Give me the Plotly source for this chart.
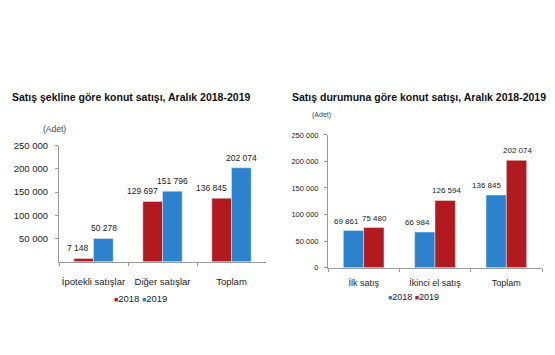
import plotly.graph_objects as go

# Left chart data
left_categories = ["İpotekli satışlar", "Diğer satışlar", "Toplam"]
left_2018 = [7148, 129697, 136845]
left_2019 = [50278, 151796, 202074]
left_yticks = [50000, 100000, 150000, 200000, 250000]

# Right chart data
right_categories = ["İlk satış", "İkinci el satış", "Toplam"]
right_2018 = [69861, 66984, 136845]
right_2019 = [75480, 126594, 202074]
right_yticks = [0, 50000, 100000, 150000, 200000, 250000]

RED = "#B11B20"
BLUE = "#2C82CC"
W, H = 555, 355
SANS = "Liberation Sans, Arial, sans-serif"


def fmt(v):
    return f"{v:,}".replace(",", " ")


def px(x):
    return x / W


def py(y):
    return 1 - y / H


fig = go.Figure()


def bar(cats, vals, name, color, xa, ya):
    return go.Bar(x=cats, y=vals, name=name, marker_color=color,
                  xaxis=xa, yaxis=ya, hoverinfo="x+y+name")


fig.add_trace(bar(left_categories, left_2018, "2018", RED, "x", "y"))
fig.add_trace(bar(left_categories, left_2019, "2019", BLUE, "x", "y"))
fig.add_trace(bar(right_categories, right_2018, "2018", BLUE, "x2", "y2"))
fig.add_trace(bar(right_categories, right_2019, "2019", RED, "x2", "y2"))

axis_common = dict(showgrid=False, zeroline=False, showline=True, linecolor="#9a9a9a",
                   linewidth=1, ticks="outside", tickcolor="#9a9a9a", ticklen=3,
                   fixedrange=True)

fig.update_layout(
    width=W, height=H,
    margin=dict(l=0, r=0, t=0, b=0),
    paper_bgcolor="white", plot_bgcolor="white",
    showlegend=False,
    barmode="group", bargap=0.43, bargroupgap=0,
    xaxis=dict(domain=[px(59), px(266)], anchor="y", tickangle=0,
               tickfont=dict(family=SANS, size=9.5, color="#222"),
               ticklabelstandoff=11,
               tickson="boundaries", **axis_common),
    yaxis=dict(domain=[py(264), py(144)], anchor="x", range=[0, 250000],
               tickvals=left_yticks, ticktext=[fmt(v) for v in left_yticks],
               ticklabelstandoff=5,
               tickfont=dict(family=SANS, size=9.5, color="#222"), **axis_common),
    xaxis2=dict(domain=[px(328), px(542)], anchor="y2", tickangle=0,
                tickfont=dict(family=SANS, size=9, color="#222"),
                ticklabelstandoff=7,
                tickson="boundaries", **axis_common),
    yaxis2=dict(domain=[py(270), py(133)], anchor="x2", range=[0, 250000],
                tickvals=right_yticks, ticktext=[fmt(v) for v in right_yticks],
                ticklabelstandoff=4,
                tickfont=dict(family=SANS, size=7.5, color="#222"), **axis_common),
)


def legend_text(c1, c2):
    sq = '<span style="color:{};font-size:7px">■</span>'
    return sq.format(c1) + "2018 " + sq.format(c2) + "2019"


annotations = [
    dict(text="<b>Satış şekline göre konut satışı, Aralık 2018-2019</b>",
         x=px(10), y=py(94), xanchor="left", yanchor="middle",
         font=dict(family=SANS, size=10.5, color="#111")),
    dict(text="<b>Satış durumuna göre konut satışı, Aralık 2018-2019</b>",
         x=px(290), y=py(94), xanchor="left", yanchor="middle",
         font=dict(family=SANS, size=10.5, color="#111")),
    dict(text="(Adet)", x=px(54), y=py(127), xanchor="center", yanchor="middle",
         font=dict(family=SANS, size=8.5, color="#444")),
    dict(text="(Adet)", x=px(321), y=py(113), xanchor="center", yanchor="middle",
         font=dict(family=SANS, size=7, color="#444")),
    dict(text=legend_text(RED, BLUE), x=px(140), y=py(302), xanchor="center",
         yanchor="middle", font=dict(family=SANS, size=9.5, color="#222")),
    dict(text=legend_text(BLUE, RED), x=px(413), y=py(300), xanchor="center",
         yanchor="middle", font=dict(family=SANS, size=9, color="#222")),
]
for a in annotations:
    a.update(xref="paper", yref="paper", showarrow=False)

# value labels placed through the axes' own scales
for cats, v18, v19, xr, yr, size, s19, anc19 in [
    (left_categories, left_2018, left_2019, "x", "y", 8.5, 10, "center"),
    (right_categories, right_2018, right_2019, "x2", "y2", 8, 11, "center"),
]:
    for c, a18, a19 in zip(cats, v18, v19):
        annotations.append(dict(text=fmt(a18), x=c, y=a18, xref=xr, yref=yr,
                                xanchor="right", yanchor="bottom", xshift=-3, yshift=3,
                                showarrow=False,
                                font=dict(family=SANS, size=size, color="#222")))
        annotations.append(dict(text=fmt(a19), x=c, y=a19, xref=xr, yref=yr,
                                xanchor=anc19, yanchor="bottom", xshift=s19, yshift=3,
                                showarrow=False,
                                font=dict(family=SANS, size=size, color="#222")))

fig.update_layout(annotations=annotations)

fig.write_html("out.html", post_script="document.body.style.margin='0';",
               config={"displayModeBar": False})
